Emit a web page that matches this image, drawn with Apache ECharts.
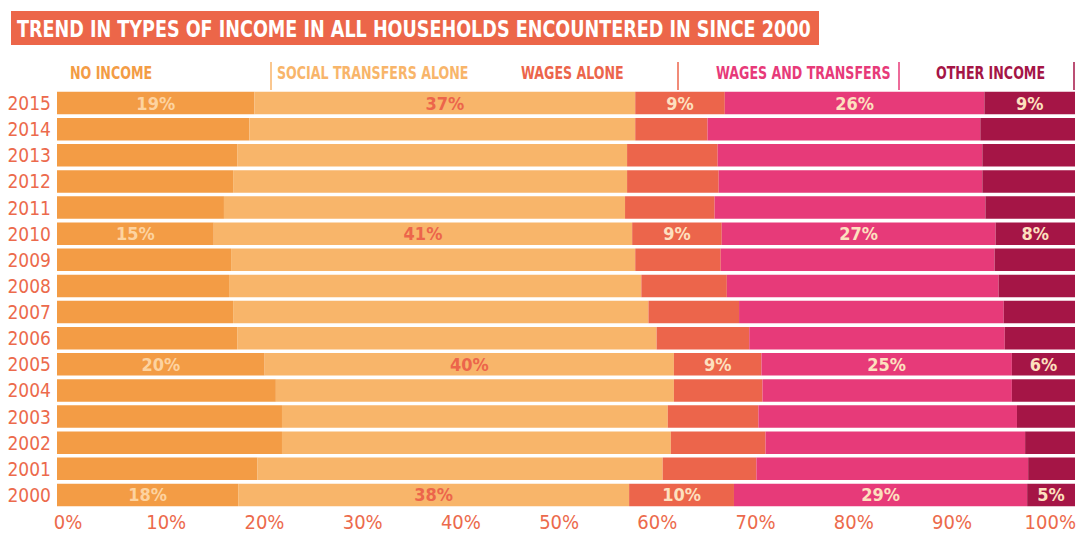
<!DOCTYPE html>
<html>
<head>
<meta charset="utf-8">
<script src="https://cdn.jsdelivr.net/npm/echarts@6/dist/echarts.min.js"></script>
<style>
html,body{margin:0;padding:0;background:#fff;}
#chart{width:1079px;height:533px;}
</style>
</head>
<body>
<div id="chart"></div>
<script>
const titleText = 'TREND IN TYPES OF INCOME IN ALL HOUSEHOLDS ENCOUNTERED IN SINCE 2000';
const years = ['2000','2001','2002','2003','2004','2005','2006','2007','2008','2009','2010','2011','2012','2013','2014','2015'];
const seriesNames = ['NO INCOME','SOCIAL TRANSFERS ALONE','WAGES ALONE','WAGES AND TRANSFERS','OTHER INCOME'];
const noIncome       = [17.8,19.7,22.1,22.1,21.5,20.4,17.7,17.3,16.9,17.1,15.4,16.4,17.3,17.7,18.9,19.4];
const socialTransfers= [38.4,39.8,38.2,37.9,39.1,40.2,41.2,40.8,40.5,39.7,41.1,39.4,38.7,38.3,37.9,37.4];
const wagesAlone     = [10.3,9.2,9.3,8.9,8.7,8.6,9.1,8.9,8.4,8.4,8.8,8.8,9.0,8.9,7.1,8.8];
const wagesTransfers = [28.8,26.7,25.5,25.4,24.5,24.6,25.1,26.0,26.7,26.9,26.9,26.6,25.9,26.0,26.8,25.5];
const otherIncome    = [4.7,4.6,4.9,5.7,6.2,6.2,6.9,7.0,7.5,7.9,7.8,8.8,9.1,9.1,9.3,8.9];
const labelledYears  = ['2000','2005','2010','2015'];
const xTicks = [0,10,20,30,40,50,60,70,80,90,100];

const colors = ['#f39c45','#f8b56a','#ec654b','#e73a79','#a51546'];
const labelColors = ['#fdd3a0','#ec654b','#fde0bf','#fde0bf','#fde0bf'];
const FONT = '"DejaVu Sans Condensed","Liberation Sans Narrow",sans-serif';
const allData = [noIncome, socialTransfers, wagesAlone, wagesTransfers, otherIncome];

const chart = echarts.init(document.getElementById('chart'), null, {renderer:'svg'});

const series = seriesNames.map((name, i) => ({
  name: name,
  type: 'bar',
  stack: 'total',
  xAxisIndex: 0,
  yAxisIndex: 0,
  barCategoryGap: '14%',
  data: allData[i],
  itemStyle: {color: colors[i]},
  label: {
    show: true,
    position: 'inside',
    color: labelColors[i],
    fontFamily: FONT,
    fontWeight: 'bold',
    fontSize: 18,
    formatter: p => labelledYears.includes(p.name) ? Math.round(p.value) + '%' : ''
  },
  emphasis: {disabled: true}
}));

const legendX = [70, 277, 521, 716, 936];
const lineX = [271, 678, 899, 1074];
const graphics = [
  {type: 'rect', shape: {x: 11, y: 11, width: 808, height: 34}, style: {fill: '#ec6649'}},
  {type: 'text', x: 17, y: 29, scaleX: 0.85,
   style: {text: titleText, fill: '#fff', font: 'bold 23px ' + FONT, verticalAlign: 'middle', align: 'left'}}
];
seriesNames.forEach((n, i) => {
  graphics.push({
    type: 'text', x: legendX[i], y: 73, scaleX: 0.78,
    style: {text: n, fill: colors[i], font: 'bold 18px ' + FONT, verticalAlign: 'middle', align: 'left'}
  });
});
lineX.forEach((x, i) => {
  graphics.push({
    type: 'line', shape: {x1: x, y1: 62, x2: x, y2: 90},
    style: {stroke: colors[i + 1], lineWidth: 1.5}
  });
});

chart.setOption({
  animation: false,
  backgroundColor: '#fff',
  grid: [
    {left: 57, right: 4, top: 90, bottom: 25, containLabel: false},
    {left: 68, right: 26, top: 90, bottom: 25, containLabel: false}
  ],
  xAxis: [
    {type: 'value', gridIndex: 0, min: 0, max: 100, show: false},
    {type: 'value', gridIndex: 1, min: 0, max: 100, interval: 10,
     axisLine: {show: false}, axisTick: {show: false}, splitLine: {show: false},
     axisLabel: {color: '#ec6a4c', fontFamily: FONT, fontSize: 20, margin: 4,
                 formatter: v => xTicks.includes(v) ? v + '%' : ''}}
  ],
  yAxis: [
    {type: 'category', gridIndex: 0, data: years,
     axisLine: {show: false}, axisTick: {show: false},
     axisLabel: {color: '#ec6a4c', fontFamily: FONT, fontSize: 19, margin: 6, interval: 0}},
    {type: 'value', gridIndex: 1, show: false}
  ],
  graphic: graphics,
  series: series
});
</script>
</body>
</html>
